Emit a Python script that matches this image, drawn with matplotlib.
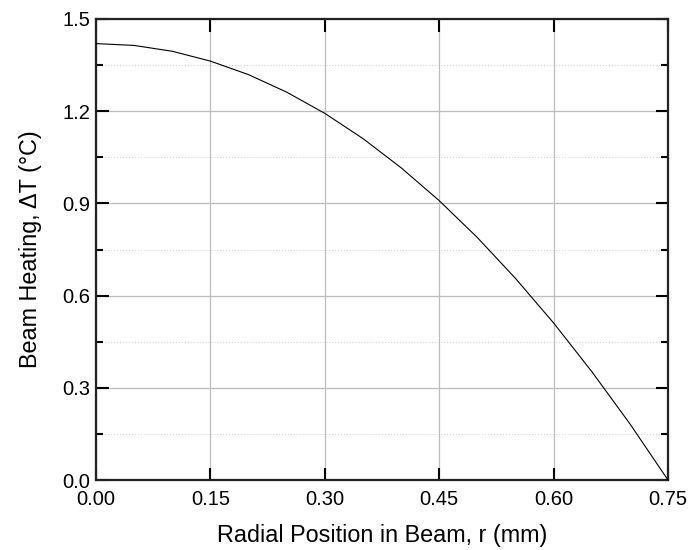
import numpy as np
import matplotlib.pyplot as plt
from matplotlib.ticker import MultipleLocator

# radial position (mm) and beam heating (deg C)
r_mm = [0.00, 0.05, 0.10, 0.15, 0.20, 0.25, 0.30, 0.35,
        0.40, 0.45, 0.50, 0.55, 0.60, 0.65, 0.70, 0.75]
delta_t = [1.420, 1.414, 1.395, 1.363, 1.319, 1.262, 1.193, 1.111,
           1.016, 0.909, 0.789, 0.656, 0.511, 0.353, 0.183, 0.000]

x_ticks = [0.00, 0.15, 0.30, 0.45, 0.60, 0.75]
y_ticks = [0.0, 0.3, 0.6, 0.9, 1.2, 1.5]

plt.rcParams['font.family'] = ['Liberation Sans', 'DejaVu Sans']

fig = plt.figure(figsize=(6.91, 5.5), dpi=100)
ax = fig.add_axes([96 / 691, 1 - 480 / 550, 572 / 691, 461 / 550])

ax.plot(r_mm, delta_t, color='black', lw=0.8, zorder=3)

ax.set_xlim(0, 0.75)
ax.set_ylim(0, 1.5)
ax.set_xticks(x_ticks)
ax.set_xticklabels([f'{v:.2f}' for v in x_ticks])
ax.set_yticks(y_ticks)
ax.set_yticklabels([f'{v:.1f}' for v in y_ticks])
ax.yaxis.set_minor_locator(MultipleLocator(0.15))

ax.grid(which='major', color='#bdbdbd', lw=0.9)
ax.grid(which='minor', axis='y', color='#d5d5d5', lw=0.8, ls=':')
ax.set_axisbelow(True)

ax.tick_params(which='both', direction='in', top=True, right=True,
               labelsize=14.5, width=1.5)
ax.tick_params(which='major', length=9)
ax.tick_params(axis='x', which='major', pad=7)
ax.tick_params(axis='y', which='major', pad=4)
ax.tick_params(which='minor', length=5)
for s in ax.spines.values():
    s.set_linewidth(1.6)
    s.set_color('#222222')

ax.set_xlabel('Radial Position in Beam, r (mm)', fontsize=16.8, labelpad=11)
ax.set_ylabel('Beam Heating, ΔT (°C)', fontsize=16.8, labelpad=15)

fig.savefig('out.png', dpi=100)
